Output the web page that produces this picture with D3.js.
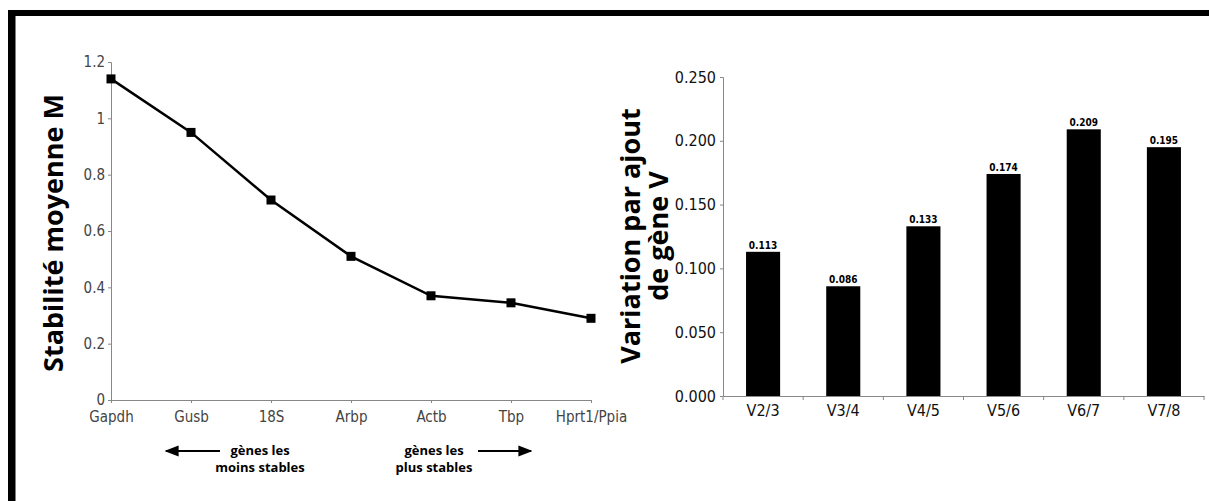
<!DOCTYPE html>
<html>
<head>
<meta charset="utf-8">
<script src="https://cdn.jsdelivr.net/npm/d3@7"></script>
<style>
body { margin: 0; background: #fff; }
svg { display: block; }
.tick text { font-family: "DejaVu Sans Condensed", "DejaVu Sans", sans-serif; }
.bold { font-family: "Open Sans", Lato, sans-serif; font-weight: 700; }
</style>
</head>
<body>
<svg width="1209" height="501"></svg>
<script>
// left chart: mean stability M per gene
var genes = ["Gapdh", "Gusb", "18S", "Arbp", "Actb", "Tbp", "Hprt1/Ppia"];
var stability = [1.14, 0.95, 0.71, 0.51, 0.37, 0.345, 0.29];
var mTicks = [0, 0.2, 0.4, 0.6, 0.8, 1, 1.2];

// right chart: pairwise variation V
var pairs = ["V2/3", "V3/4", "V4/5", "V5/6", "V6/7", "V7/8"];
var variation = [0.113, 0.086, 0.133, 0.174, 0.209, 0.195];
var vTicks = [0, 0.05, 0.1, 0.15, 0.2, 0.25];

var svg = d3.select("svg");

// frame (black bars top and left)
svg.append("rect").attr("x", 8).attr("y", 10).attr("width", 1201).attr("height", 6).attr("fill", "#000");
svg.append("rect").attr("x", 8).attr("y", 10).attr("width", 7.5).attr("height", 491).attr("fill", "#000");

// ---------- left line chart ----------
var x1 = d3.scalePoint().domain(genes).range([111, 591]);
var y1 = d3.scaleLinear().domain([0, 1.2]).range([400, 62]);

var gy1 = svg.append("g").attr("transform", "translate(111,0)")
    .call(d3.axisLeft(y1).tickValues(mTicks).tickSize(3).tickPadding(3).tickFormat(d3.format("")));
var gx1 = svg.append("g").attr("transform", "translate(0,400)")
    .call(d3.axisBottom(x1).tickSize(3).tickPadding(8));
[gy1, gx1].forEach(function(g) {
    g.select(".domain").attr("stroke", "#888");
    g.selectAll(".tick line").attr("stroke", "#888");
    g.selectAll(".tick text").attr("fill", "#444").style("font-size", "15px");
});

var line = d3.line().x(function(d, i) { return x1(genes[i]); }).y(function(d) { return y1(d); });
svg.append("path").datum(stability)
    .attr("d", line).attr("fill", "none").attr("stroke", "#000").attr("stroke-width", 2.5);
svg.selectAll(".mk").data(stability).enter().append("rect")
    .attr("class", "mk")
    .attr("x", function(d, i) { return x1(genes[i]) - 4.5; })
    .attr("y", function(d) { return y1(d) - 4.5; })
    .attr("width", 9).attr("height", 9).attr("fill", "#000");

svg.append("text").attr("class", "bold")
    .attr("transform", "translate(63,233) rotate(-90)")
    .attr("text-anchor", "middle").style("font-size", "27px")
    .text("Stabilité moyenne M");

// arrows + notes
svg.append("defs").append("marker")
    .attr("id", "ah").attr("viewBox", "0 0 10 10").attr("refX", 9).attr("refY", 5)
    .attr("markerWidth", 7).attr("markerHeight", 7).attr("orient", "auto-start-reverse")
    .append("path").attr("d", "M0,1 L10,5 L0,9 Z").attr("fill", "#000");
svg.append("line").attr("x1", 220).attr("x2", 166).attr("y1", 451).attr("y2", 451)
    .attr("stroke", "#000").attr("stroke-width", 2).attr("marker-end", "url(#ah)");
svg.append("line").attr("x1", 478).attr("x2", 531).attr("y1", 451).attr("y2", 451)
    .attr("stroke", "#000").attr("stroke-width", 2).attr("marker-end", "url(#ah)");

function note(cx, lines) {
    var t = svg.append("text").attr("class", "bold").attr("text-anchor", "middle")
        .style("font-size", "13px");
    lines.forEach(function(s, i) {
        t.append("tspan").attr("x", cx).attr("y", 455 + i * 17).text(s);
    });
}
note(260, ["gènes les", "moins stables"]);
note(434, ["gènes les", "plus stables"]);

// ---------- right bar chart ----------
var x2 = d3.scaleBand().domain(pairs).range([723, 1204]).paddingInner(0.575).paddingOuter(0.2875);
var y2 = d3.scaleLinear().domain([0, 0.25]).range([396, 77]);

var gy2 = svg.append("g").attr("transform", "translate(723,0)")
    .call(d3.axisLeft(y2).tickValues(vTicks).tickSize(3).tickPadding(4).tickFormat(d3.format(".3f")));
var gx2 = svg.append("g").attr("transform", "translate(0,396)")
    .call(d3.axisBottom(x2).tickSize(0).tickPadding(9));
[gy2, gx2].forEach(function(g) {
    g.select(".domain").attr("stroke", "#888");
    g.selectAll(".tick line").attr("stroke", "#888");
    g.selectAll(".tick text").attr("fill", "#111").style("font-size", "16px");
});
// category boundary ticks
svg.selectAll(".bt").data(d3.range(pairs.length + 1)).enter().append("line")
    .attr("x1", function(i) { return 723 + i * x2.step(); })
    .attr("x2", function(i) { return 723 + i * x2.step(); })
    .attr("y1", 396).attr("y2", 400).attr("stroke", "#888");

svg.selectAll(".bar").data(variation).enter().append("rect")
    .attr("class", "bar")
    .attr("x", function(d, i) { return x2(pairs[i]); })
    .attr("y", function(d) { return y2(d); })
    .attr("width", x2.bandwidth())
    .attr("height", function(d) { return y2(0) - y2(d); })
    .attr("fill", "#000");
svg.selectAll(".vl").data(variation).enter().append("text")
    .attr("x", function(d, i) { return x2(pairs[i]) + x2.bandwidth() / 2; })
    .attr("y", function(d) { return y2(d) - 3; })
    .attr("text-anchor", "middle")
    .style("font-family", "'DejaVu Sans Condensed', sans-serif").style("font-weight", "700")
    .style("font-size", "10px")
    .text(function(d) { return d3.format(".3f")(d); });

var t2 = svg.append("text").attr("class", "bold").attr("text-anchor", "middle")
    .attr("transform", "translate(0,236) rotate(-90)").style("font-size", "27px");
t2.append("tspan").attr("x", 0).attr("y", 640).text("Variation par ajout");
t2.append("tspan").attr("x", 0).attr("y", 668).text("de gène V");
</script>
</body>
</html>
